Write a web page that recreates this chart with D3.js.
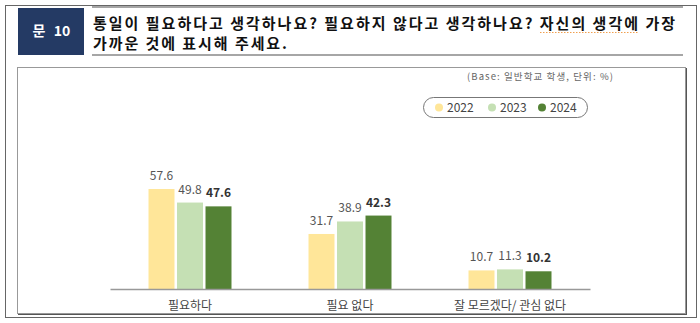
<!DOCTYPE html>
<html>
<head>
<meta charset="utf-8">
<script src="https://cdn.jsdelivr.net/npm/d3@7/dist/d3.min.js"></script>
<style>
  html, body { margin: 0; padding: 0; background: #fff; }
  svg { display: block; }
  text { font-family: "Noto Sans CJK KR", "Noto Sans", sans-serif; }
</style>
</head>
<body>
<svg id="chart" width="700" height="323"></svg>
<script>
// Survey responses by year (%)
const categories = ["필요하다", "필요 없다", "잘 모르겠다/ 관심 없다"];
const years = ["2022", "2023", "2024"];
const values2022 = [57.6, 31.7, 10.7];
const values2023 = [49.8, 38.9, 11.3];
const values2024 = [47.6, 42.3, 10.2];
const seriesValues = [values2022, values2023, values2024];
const colors = ["#FFE699", "#C5E0B4", "#548235"];

const questionLabel = ["문", "10"];
const questionLines = [
  "통일이 필요하다고 생각하나요? 필요하지 않다고 생각하나요? 자신의 생각에 가장",
  "가까운 것에 표시해 주세요."
];
const baseNote = "(Base: 일반학교 학생, 단위: %)";

const svg = d3.select("#chart");

// Outer page frame
svg.append("rect")
  .attr("x", 5.5).attr("y", 5.5).attr("width", 691).attr("height", 312)
  .attr("fill", "none").attr("stroke", "#666").attr("stroke-width", 1);

// Question header
svg.append("rect")
  .attr("x", 18).attr("y", 8).attr("width", 66).attr("height", 47)
  .attr("fill", "#243A64");
const labelX = [39, 62];
questionLabel.forEach((t, i) => {
  svg.append("text")
    .attr("x", labelX[i]).attr("y", 36)
    .attr("text-anchor", "middle")
    .attr("fill", "#fff").attr("font-size", 14).attr("font-weight", "bold")
    .text(t);
});

[7, 55].forEach(y => {
  svg.append("line")
    .attr("x1", 92).attr("x2", 683).attr("y1", y).attr("y2", y)
    .attr("stroke", "#a6a6a6").attr("stroke-width", 2);
});

const qText = svg.append("g").attr("fill", "#111").attr("font-size", 15).attr("font-weight", "bold");
qText.append("text").attr("x", 93).attr("y", 29)
  .attr("textLength", 582).attr("lengthAdjust", "spacing")
  .text(questionLines[0]);
qText.append("text").attr("x", 93).attr("y", 49)
  .attr("textLength", 194).attr("lengthAdjust", "spacing")
  .text(questionLines[1]);

// Spell-check style underline under "자신의 생각에"
svg.append("line")
  .attr("x1", 540).attr("x2", 638).attr("y1", 32.5).attr("y2", 32.5)
  .attr("stroke", "#f0a050").attr("stroke-width", 1).attr("stroke-dasharray", "1.5,1.5");

// Chart panel with a soft shadow edge
svg.append("rect")
  .attr("x", 18.5).attr("y", 68.5).attr("width", 668).attr("height", 246)
  .attr("fill", "none").attr("stroke", "#555").attr("stroke-width", 1);
svg.append("rect")
  .attr("x", 17.5).attr("y", 67.5).attr("width", 668).attr("height", 246)
  .attr("fill", "#fff").attr("stroke", "#999").attr("stroke-width", 1);

svg.append("text")
  .attr("x", 467).attr("y", 80)
  .attr("textLength", 146).attr("lengthAdjust", "spacing")
  .attr("fill", "#666").attr("font-size", 9.5)
  .text(baseNote);

// Legend
svg.append("rect")
  .attr("x", 423.5).attr("y", 97.5).attr("width", 164).attr("height", 20).attr("rx", 10)
  .attr("fill", "#fff").attr("stroke", "#777").attr("stroke-width", 1);
const legendX = [439, 492, 542];
years.forEach((yr, i) => {
  svg.append("circle").attr("cx", legendX[i]).attr("cy", 107.5).attr("r", 4).attr("fill", colors[i]);
  svg.append("text").attr("x", legendX[i] + 8).attr("y", 112)
    .attr("fill", "#444").attr("font-size", 12).text(yr);
});

// Scales
const baseY = 289;
const y = d3.scaleLinear().domain([0, 100]).range([baseY, baseY - 173.6]);
const x = d3.scaleBand().domain(categories).range([110, 590]).padding(0);
const groupW = 85.5;
const xSub = d3.scaleBand().domain(years)
  .range([0, groupW]).paddingInner(0.088).paddingOuter(0.044);

const groups = svg.append("g").selectAll("g")
  .data(categories)
  .join("g")
  .attr("transform", c => `translate(${x(c) + x.bandwidth() / 2 - groupW / 2},0)`);

groups.selectAll("rect")
  .data((c, ci) => years.map((yr, si) => ({ yr, si, v: seriesValues[si][ci] })))
  .join("rect")
  .attr("x", d => xSub(d.yr))
  .attr("width", xSub.bandwidth())
  .attr("y", d => y(d.v))
  .attr("height", d => baseY - y(d.v))
  .attr("fill", d => colors[d.si]);

groups.selectAll("text.val")
  .data((c, ci) => years.map((yr, si) => ({ yr, si, v: seriesValues[si][ci] })))
  .join("text")
  .attr("class", "val")
  .attr("x", d => xSub(d.yr) + xSub.bandwidth() / 2)
  .attr("y", d => y(d.v) - 9)
  .attr("text-anchor", "middle")
  .attr("font-size", 12)
  .attr("font-weight", d => d.si === 2 ? "bold" : "normal")
  .attr("fill", d => d.si === 2 ? "#333" : "#555")
  .text(d => d3.format(".1f")(d.v));

// Category axis
const axis = svg.append("g")
  .attr("transform", `translate(0,${baseY})`)
  .call(d3.axisBottom(x).tickSize(0).tickPadding(12));
axis.select(".domain").attr("stroke", "#999").attr("stroke-width", 1.5);
axis.selectAll("text")
  .attr("font-size", 12).attr("fill", "#444")
  .style("font-family", "'Noto Sans CJK KR', sans-serif");
</script>
</body>
</html>
